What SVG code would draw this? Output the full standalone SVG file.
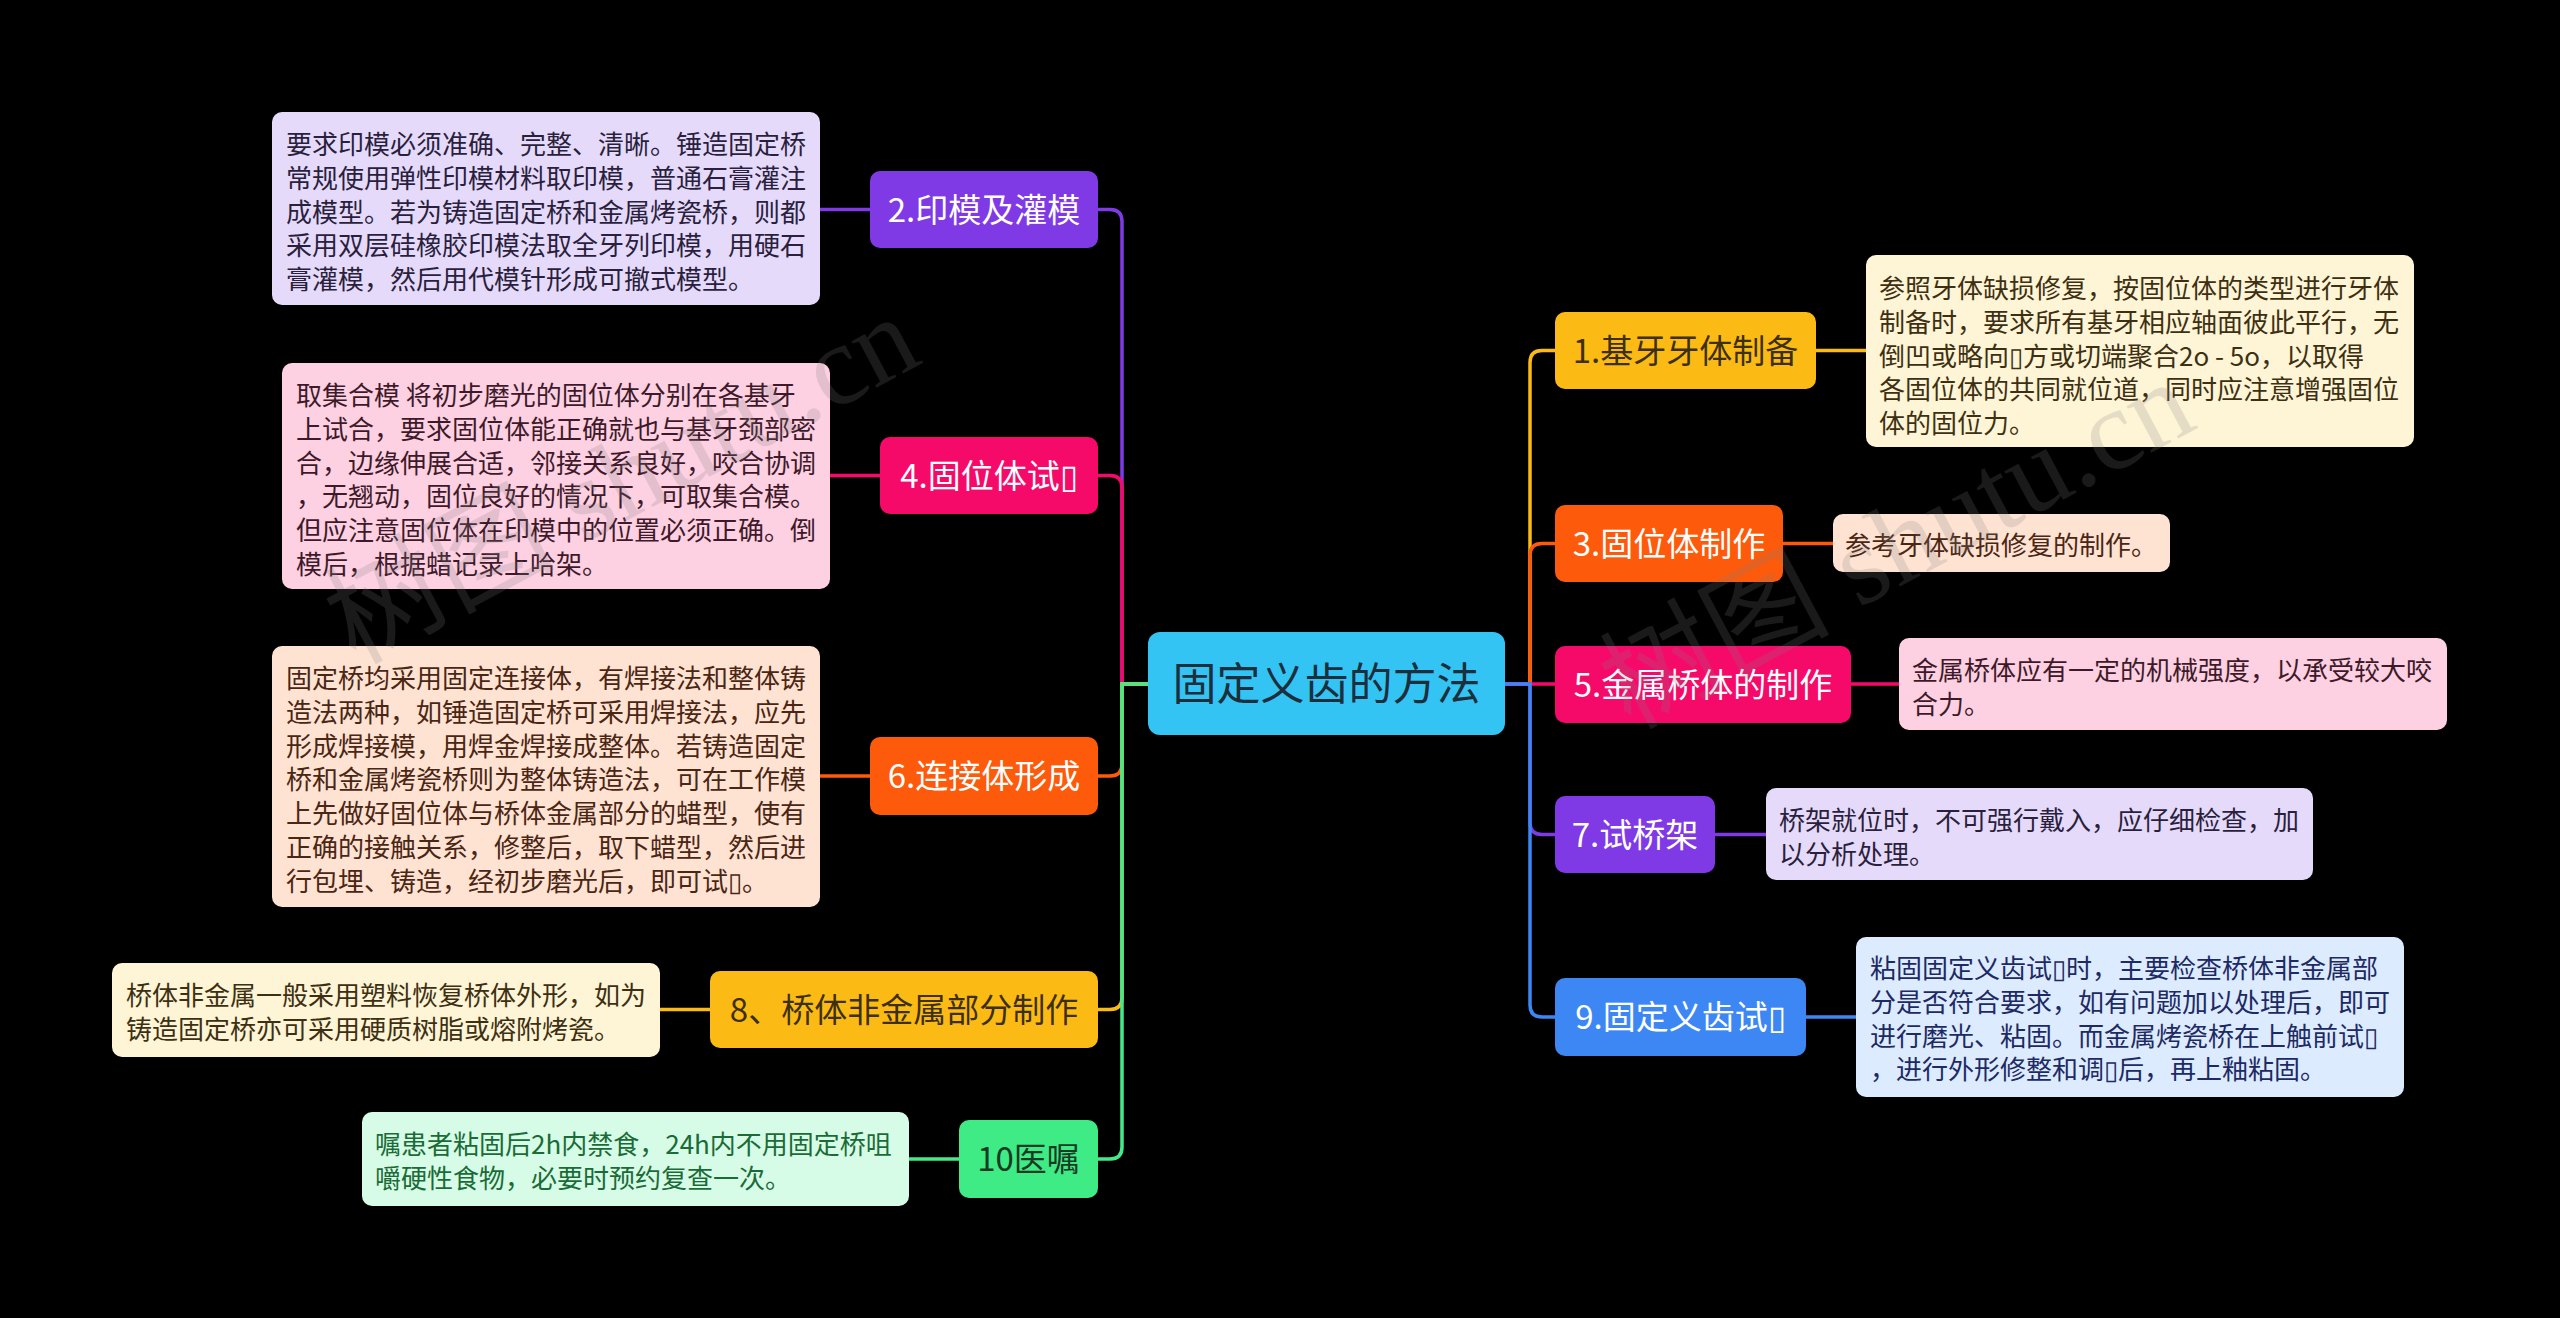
<svg xmlns="http://www.w3.org/2000/svg" width="2560" height="1318" viewBox="0 0 2560 1318">
<style>
.t{font-family:"Noto Sans CJK SC","Liberation Sans",sans-serif;}
.d{font-size:26px;}
.h{font-size:33px;text-anchor:middle;}
.w{fill:#ffffff;}
.ln{fill:none;stroke-width:3.5;stroke-linecap:round;}
.wm{font-family:"Liberation Serif","Noto Sans CJK SC",serif;font-size:115px;fill:#808080;opacity:0.2;}
</style>
<rect x="0" y="0" width="2560" height="1318" fill="#000000"/>
<g id="connectors">
  <path class="ln" stroke="#7F3AE6" d="M1148,684 H1122 V221.5 Q1122,209.5 1110,209.5 H1098 M870,209.5 H820"/>
  <path class="ln" stroke="#F50A6A" d="M1148,684 H1122 V487.5 Q1122,475.5 1110,475.5 H1098 M880,475.5 H830"/>
  <path class="ln" stroke="#FD5A0B" d="M1148,684 H1122 V764 Q1122,776 1110,776 H1098 M870,776 H820"/>
  <path class="ln" stroke="#FCBB14" d="M1148,684 H1122 V997.5 Q1122,1009.5 1110,1009.5 H1098 M710,1009.5 H660"/>
  <path class="ln" stroke="#46E98A" d="M1148,684 H1122 V1147 Q1122,1159 1110,1159 H1098 M959,1159 H909"/>
  <path class="ln" stroke="#FCBB14" d="M1505,684 H1530 V362.5 Q1530,350.5 1542,350.5 H1555 M1816,350.5 H1866"/>
  <path class="ln" stroke="#FD5A0B" d="M1505,684 H1530 V555.5 Q1530,543.5 1542,543.5 H1555 M1783,543.5 H1833"/>
  <path class="ln" stroke="#F50A6A" d="M1505,684 H1555 M1851,684 H1899"/>
  <path class="ln" stroke="#7F3AE6" d="M1505,684 H1530 V822.5 Q1530,834.5 1542,834.5 H1555 M1715,834.5 H1766"/>
  <path class="ln" stroke="#3D87F5" d="M1505,684 H1530 V1005 Q1530,1017 1542,1017 H1555 M1806,1017 H1856"/>
</g>
<g id="center">
  <rect x="1148" y="632" width="357" height="103" rx="12" fill="#33C4F4"/>
  <text class="t" x="1326.5" y="700" font-size="44" text-anchor="middle" fill="#1d2f3d">固定义齿的方法</text>
</g>
<g id="n2">
  <rect x="870" y="171" width="228" height="77" rx="10" fill="#7F3AE6"/>
  <text class="t h w" x="984" y="221.5">2.印模及灌模</text>
</g>
<g id="d2">
  <rect x="272" y="112" width="548" height="193" rx="10" fill="#E5DAFA"/>
  <text class="t d" fill="#2a1f3d" x="286"><tspan x="286" y="154">要求印模必须准确、完整、清晰。锤造固定桥</tspan><tspan x="286" y="187.8">常规使用弹性印模材料取印模，普通石膏灌注</tspan><tspan x="286" y="221.6">成模型。若为铸造固定桥和金属烤瓷桥，则都</tspan><tspan x="286" y="255.4">采用双层硅橡胶印模法取全牙列印模，用硬石</tspan><tspan x="286" y="289.2">膏灌模，然后用代模针形成可撤式模型。</tspan></text>
</g>
<g id="n4">
  <rect x="880" y="437" width="218" height="77" rx="10" fill="#F50A6A"/>
  <text class="t h w" x="989" y="487.5">4.固位体试▯</text>
</g>
<g id="d4">
  <rect x="282" y="363" width="548" height="226" rx="10" fill="#FDD0E2"/>
  <text class="t d" fill="#3d1a2a"><tspan x="296" y="405">取集合模 将初步磨光的固位体分别在各基牙</tspan><tspan x="296" y="438.8">上试合，要求固位体能正确就也与基牙颈部密</tspan><tspan x="296" y="472.6">合，边缘伸展合适，邻接关系良好，咬合协调</tspan><tspan x="296" y="506.4">，无翘动，固位良好的情况下，可取集合模。</tspan><tspan x="296" y="540.2">但应注意固位体在印模中的位置必须正确。倒</tspan><tspan x="296" y="574">模后，根据蜡记录上哈架。</tspan></text>
</g>
<g id="n6">
  <rect x="870" y="737" width="228" height="78" rx="10" fill="#FD5A0B"/>
  <text class="t h w" x="984" y="788">6.连接体形成</text>
</g>
<g id="d6">
  <rect x="272" y="646" width="548" height="261" rx="10" fill="#FEE2D2"/>
  <text class="t d" fill="#4a2614"><tspan x="286" y="688">固定桥均采用固定连接体，有焊接法和整体铸</tspan><tspan x="286" y="721.8">造法两种，如锤造固定桥可采用焊接法，应先</tspan><tspan x="286" y="755.6">形成焊接模，用焊金焊接成整体。若铸造固定</tspan><tspan x="286" y="789.4">桥和金属烤瓷桥则为整体铸造法，可在工作模</tspan><tspan x="286" y="823.2">上先做好固位体与桥体金属部分的蜡型，使有</tspan><tspan x="286" y="857">正确的接触关系，修整后，取下蜡型，然后进</tspan><tspan x="286" y="890.8">行包埋、铸造，经初步磨光后，即可试▯。</tspan></text>
</g>
<g id="n8">
  <rect x="710" y="971" width="388" height="77" rx="10" fill="#FCBB14"/>
  <text class="t h" fill="#3d3012" x="904" y="1021.5">8、桥体非金属部分制作</text>
</g>
<g id="d8">
  <rect x="112" y="963" width="548" height="94" rx="10" fill="#FEF4D6"/>
  <text class="t d" fill="#3d3012"><tspan x="126" y="1005">桥体非金属一般采用塑料恢复桥体外形，如为</tspan><tspan x="126" y="1038.8">铸造固定桥亦可采用硬质树脂或熔附烤瓷。</tspan></text>
</g>
<g id="n10">
  <rect x="959" y="1120" width="139" height="78" rx="10" fill="#3EEB85"/>
  <text class="t h" fill="#1a3a24" x="1028.5" y="1171">10医嘱</text>
</g>
<g id="d10">
  <rect x="362" y="1112" width="547" height="94" rx="10" fill="#D6FBE6"/>
  <text class="t d" fill="#1a6b37"><tspan x="375" y="1154">嘱患者粘固后2h内禁食，24h内不用固定桥咀</tspan><tspan x="375" y="1187.8">嚼硬性食物，必要时预约复查一次。</tspan></text>
</g>
<g id="n1">
  <rect x="1555" y="312" width="261" height="77" rx="10" fill="#FCBB14"/>
  <text class="t h" fill="#3d3012" x="1685.5" y="362.5">1.基牙牙体制备</text>
</g>
<g id="d1">
  <rect x="1866" y="255" width="548" height="192" rx="10" fill="#FEF4D6"/>
  <text class="t d" fill="#3d3012"><tspan x="1879" y="298">参照牙体缺损修复，按固位体的类型进行牙体</tspan><tspan x="1879" y="331.8">制备时，要求所有基牙相应轴面彼此平行，无</tspan><tspan x="1879" y="365.6">倒凹或略向▯方或切端聚合2o - 5o，以取得</tspan><tspan x="1879" y="399.4">各固位体的共同就位道，同时应注意增强固位</tspan><tspan x="1879" y="433.2">体的固位力。</tspan></text>
</g>
<g id="n3">
  <rect x="1555" y="505" width="228" height="77" rx="10" fill="#FD5A0B"/>
  <text class="t h w" x="1669" y="555.5">3.固位体制作</text>
</g>
<g id="d3">
  <rect x="1833" y="514" width="337" height="58" rx="10" fill="#FEE2D2"/>
  <text class="t d" fill="#4a2614" x="1845" y="555">参考牙体缺损修复的制作。</text>
</g>
<g id="n5">
  <rect x="1555" y="646" width="296" height="77" rx="10" fill="#F50A6A"/>
  <text class="t h w" x="1703" y="696.5">5.金属桥体的制作</text>
</g>
<g id="d5">
  <rect x="1899" y="638" width="548" height="92" rx="10" fill="#FDD0E2"/>
  <text class="t d" fill="#3d1a2a"><tspan x="1912" y="680">金属桥体应有一定的机械强度，以承受较大咬</tspan><tspan x="1912" y="713.8">合力。</tspan></text>
</g>
<g id="n7">
  <rect x="1555" y="796" width="160" height="77" rx="10" fill="#7F3AE6"/>
  <text class="t h w" x="1635" y="846.5">7.试桥架</text>
</g>
<g id="d7">
  <rect x="1766" y="788" width="547" height="92" rx="10" fill="#E5DAFA"/>
  <text class="t d" fill="#2a1f3d"><tspan x="1779" y="830">桥架就位时，不可强行戴入，应仔细检查，加</tspan><tspan x="1779" y="863.8">以分析处理。</tspan></text>
</g>
<g id="n9">
  <rect x="1555" y="978" width="251" height="78" rx="10" fill="#3D87F5"/>
  <text class="t h w" x="1680.5" y="1029">9.固定义齿试▯</text>
</g>
<g id="d9">
  <rect x="1856" y="937" width="548" height="160" rx="10" fill="#DCEBFE"/>
  <text class="t d" fill="#1d2a63"><tspan x="1870" y="978">粘固固定义齿试▯时，主要检查桥体非金属部</tspan><tspan x="1870" y="1011.8">分是否符合要求，如有问题加以处理后，即可</tspan><tspan x="1870" y="1045.6">进行磨光、粘固。而金属烤瓷桥在上触前试▯</tspan><tspan x="1870" y="1079.4">，进行外形修整和调▯后，再上釉粘固。</tspan></text>
</g>
<g id="watermarks">
  <text class="wm" transform="translate(355,665) rotate(-28)">树图 shutu.cn</text>
  <text class="wm" transform="translate(1630,730) rotate(-28)">树图 shutu.cn</text>
</g>
</svg>
